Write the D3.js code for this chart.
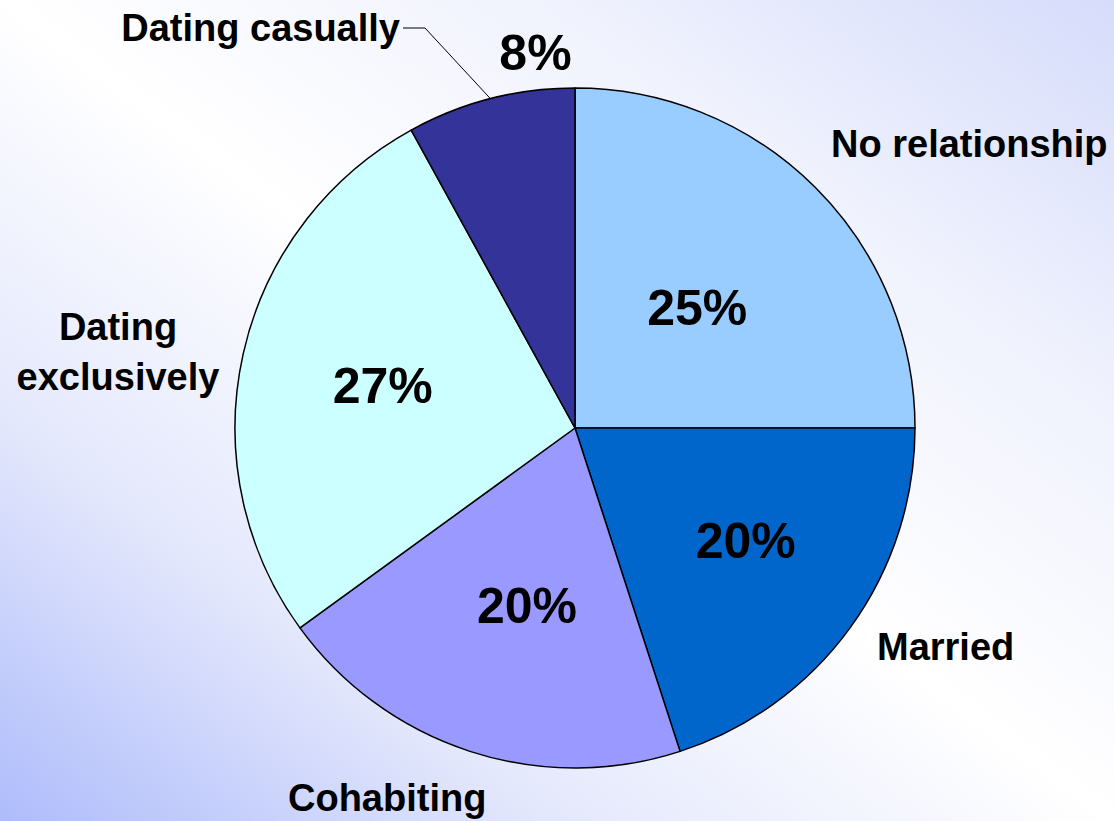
<!DOCTYPE html>
<html>
<head>
<meta charset="utf-8">
<script src="https://cdn.jsdelivr.net/npm/d3@7/dist/d3.min.js"></script>
<style>
  html, body { margin: 0; padding: 0; background: #fff; }
  svg { display: block; }
  text { font-family: "Liberation Sans", Arial, sans-serif; font-weight: bold; fill: #000; }
</style>
</head>
<body>
<svg id="chart" width="1114" height="821"></svg>
<script>
// ---- data ----
const categories = ["No relationship", "Married", "Cohabiting", "Dating exclusively", "Dating casually"];
const values = [25, 20, 20, 27, 8];
const percentLabels = ["25%", "20%", "20%", "27%", "8%"];
const colors = ["#99ccff", "#0066cc", "#9999ff", "#ccffff", "#333399"];

// ---- layout ----
const W = 1114, H = 821;
const cx = 575, cy = 428, R = 340;
// percentage label placement: polar radius and angle offset (degrees) from slice middle
const pctPlacement = [
  { r: 172, da: 0.3 },
  { r: 204, da: -2.8 },
  { r: 183, da: -2.8 },
  { r: 197, da: 0 },
  { r: 378, da: 8.4 }
];
// category label placement (anchor position)
const catPlacement = [
  { x: 831, y: 157, anchor: "start", lines: ["No relationship"] },
  { x: 877, y: 660, anchor: "start", lines: ["Married"] },
  { x: 288, y: 811, anchor: "start", lines: ["Cohabiting"] },
  { x: 118, y: 340, anchor: "middle", lines: ["Dating", "exclusively"], lh: 50 },
  { x: 400, y: 41, anchor: "end", lines: ["Dating casually"] }
];

const svg = d3.select("#chart");

// background gradient
const defs = svg.append("defs");
const grad = defs.append("linearGradient")
  .attr("id", "bg")
  .attr("x1", 0).attr("y1", 1).attr("x2", 1).attr("y2", 0);
[[0, "#aebcfb"], [0.25, "#e4e8fc"], [0.5, "#ffffff"], [0.75, "#f0f2fd"], [1, "#d6dcfb"]]
  .forEach(([o, c]) => grad.append("stop").attr("offset", o).attr("stop-color", c));
svg.append("rect").attr("width", W).attr("height", H).attr("fill", "url(#bg)");

const data = categories.map((c, i) => ({ cat: c, value: values[i], pct: percentLabels[i], color: colors[i], i }));

const pie = d3.pie().value(d => d.value).sort(null);
const arcs = pie(data);
const arc = d3.arc().innerRadius(0).outerRadius(R);

const g = svg.append("g").attr("transform", `translate(${cx},${cy})`);

g.selectAll("path.slice")
  .data(arcs)
  .enter().append("path")
  .attr("class", "slice")
  .attr("d", arc)
  .attr("fill", d => d.data.color)
  .attr("stroke", "#000")
  .attr("stroke-width", 1.5)
  .attr("stroke-linejoin", "round");

// percentage labels
const pctSize = 50;
g.selectAll("text.pct")
  .data(arcs)
  .enter().append("text")
  .attr("class", "pct")
  .attr("text-anchor", "middle")
  .attr("font-size", pctSize)
  .attr("x", d => {
    const p = pctPlacement[d.data.i];
    const a = (d.startAngle + d.endAngle) / 2 + p.da * Math.PI / 180;
    return p.r * Math.sin(a);
  })
  .attr("y", d => {
    const p = pctPlacement[d.data.i];
    const a = (d.startAngle + d.endAngle) / 2 + p.da * Math.PI / 180;
    return -p.r * Math.cos(a) + pctSize * 0.36;
  })
  .text(d => d.data.pct);

// category labels
const catSize = 38;
data.forEach((d, i) => {
  const p = catPlacement[i];
  const t = svg.append("text")
    .attr("class", "cat")
    .attr("font-size", catSize)
    .attr("text-anchor", p.anchor)
    .attr("x", p.x)
    .attr("y", p.y);
  p.lines.forEach((ln, k) => {
    t.append("tspan").attr("x", p.x).attr("dy", k === 0 ? 0 : (p.lh || catSize * 1.2)).text(ln);
  });
});

// leader line for "Dating casually"
const edgeArc = d3.arc().innerRadius(R).outerRadius(R);
const casual = arcs[4];
const edge = edgeArc.centroid(casual);
const lp = catPlacement[4];
svg.append("polyline")
  .attr("points", [
    [lp.x + 3, lp.y - 13],
    [lp.x + 25, lp.y - 13],
    [cx + edge[0], cy + edge[1]]
  ].map(p => p.join(",")).join(" "))
  .attr("fill", "none")
  .attr("stroke", "#000")
  .attr("stroke-width", 1);
</script>
</body>
</html>
